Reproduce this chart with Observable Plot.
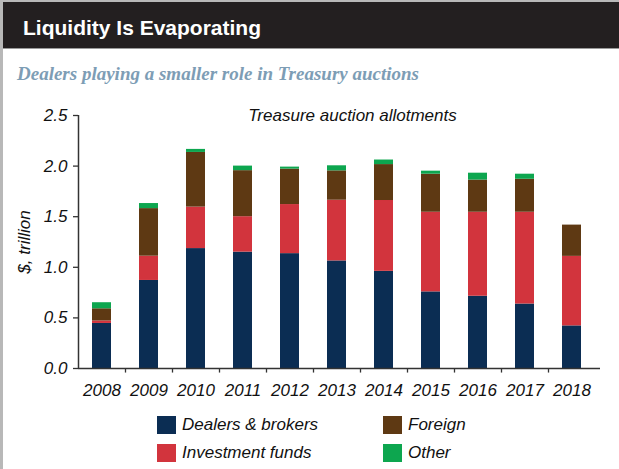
<!DOCTYPE html>
<html>
<head>
<meta charset="utf-8">
<script src="https://cdn.jsdelivr.net/npm/d3@7"></script>
<script src="https://cdn.jsdelivr.net/npm/@observablehq/plot@0.6"></script>
<style>
  body { margin: 0; background: #fff; }
  #page { position: relative; width: 619px; height: 469px; overflow: hidden; background: #fff;
          font-family: "Liberation Sans", Arial, sans-serif; }
  #frameL { position: absolute; left: 0; top: 0; width: 3px; height: 469px; background: #b8b8b8; }
  #frameT { position: absolute; left: 0; top: 0; width: 619px; height: 2px; background: #b8b8b8; }
  #header { position: absolute; left: 3px; top: 2px; width: 616px; height: 46px; background: #231f20;
            border-bottom: 1px solid #9a9a9a; }
  #title { position: absolute; left: 20px; top: 14.5px; font-size: 21px; line-height: 21px; font-weight: bold;
           color: #fff; white-space: nowrap; }
  #subtitle { position: absolute; left: 17px; top: 64px; font-family: "Liberation Serif", serif; font-size: 19px;
              line-height: 19px; font-weight: bold; font-style: italic; color: #7d9db5; white-space: nowrap; }
  #charttitle { position: absolute; left: 352.5px; top: 107.3px; transform: translateX(-50%); font-size: 17px;
                line-height: 17px; font-style: italic; color: #111; white-space: nowrap; z-index: 2; }
  #chart { position: absolute; left: 0; top: 100px; }
  #legend { position: absolute; left: 157px; top: 416px; display: grid; grid-template-columns: 226px 200px;
            row-gap: 10px; }
  .item { display: flex; align-items: center; height: 18px; font-size: 17px; line-height: 18px; font-style: italic; color: #111; }
  .sw { width: 19px; height: 18px; margin-right: 6px; flex: none; }
</style>
</head>
<body>
<div id="page">
  <div id="frameT"></div>
  <div id="frameL"></div>
  <div id="header"><div id="title">Liquidity Is Evaporating</div></div>
  <div id="subtitle">Dealers playing a smaller role in Treasury auctions</div>
  <div id="charttitle">Treasure auction allotments</div>
  <div id="chart"></div>
  <div id="legend"></div>
</div>
<script>
const years = ["2008","2009","2010","2011","2012","2013","2014","2015","2016","2017","2018"];
const categories = ["Dealers & brokers", "Investment funds", "Foreign", "Other"];
const colors = ["#0b2d53", "#d2343d", "#5e3913", "#0da64f"];
const dealers    = [0.445, 0.87, 1.185, 1.15, 1.135, 1.063, 0.96, 0.757, 0.714, 0.637, 0.421];
const investment = [0.025, 0.24, 0.41, 0.35, 0.485, 0.60, 0.70, 0.787, 0.83, 0.907, 0.687];
const foreign    = [0.12, 0.47, 0.54, 0.455, 0.35, 0.29, 0.355, 0.376, 0.318, 0.326, 0.309];
const other      = [0.06, 0.05, 0.03, 0.045, 0.02, 0.05, 0.045, 0.03, 0.068, 0.05, 0.0];
const yTicks = [0, 0.5, 1.0, 1.5, 2.0, 2.5];
const legendOrder = ["Dealers & brokers", "Foreign", "Investment funds", "Other"];

const series = [dealers, investment, foreign, other];
const data = [];
years.forEach((yr, i) => {
  categories.forEach((c, j) => data.push({year: yr, category: c, value: series[j][i]}));
});

const step = (595 - 78) / years.length;

const chart = Plot.plot({
  width: 619,
  height: 300,
  marginLeft: 78,
  marginRight: 19,
  marginTop: 15,
  marginBottom: 32,
  style: {fontFamily: "Liberation Sans, Arial, sans-serif", fontSize: "17px", fontStyle: "italic", color: "#111", background: "transparent"},
  x: {domain: years, range: [78, 595], paddingInner: 0.6, paddingOuter: 0.3, label: null},
  y: {domain: [0, 2.5], label: null},
  color: {domain: categories, range: colors},
  marks: [
    Plot.barY(data, {x: "year", y: "value", fill: "category", order: categories}),
    Plot.ruleY([0], {stroke: "#333", strokeWidth: 1.5}),
    Plot.ruleX([years[0]], {x: d => d, dx: -step / 2, y1: 0, y2: 2.5, stroke: "#333", strokeWidth: 1.5}),
    Plot.ruleX(years.slice(1), {x: d => d, dx: -step / 2, y1: 0, y2: -0.045, stroke: "#333", strokeWidth: 1.3}),
    Plot.axisY({ticks: yTicks, tickFormat: d3.format(".1f"), tickSize: 5, tickPadding: 6, stroke: "#333", strokeWidth: 1.3, label: null}),
    Plot.axisX({tickSize: 0, tickPadding: 15, label: null}),
    Plot.text(["$, trillion"], {frameAnchor: "left", dx: -54, rotate: -90, textAnchor: "middle", lineAnchor: "middle", fill: "#111"})
  ]
});
document.getElementById("chart").appendChild(chart);

const legend = document.getElementById("legend");
legendOrder.forEach(c => {
  const it = document.createElement("div");
  it.className = "item";
  const sw = document.createElement("div");
  sw.className = "sw";
  sw.style.background = colors[categories.indexOf(c)];
  it.appendChild(sw);
  const t = document.createElement("span");
  t.textContent = c;
  it.appendChild(t);
  legend.appendChild(it);
});
</script>
</body>
</html>
